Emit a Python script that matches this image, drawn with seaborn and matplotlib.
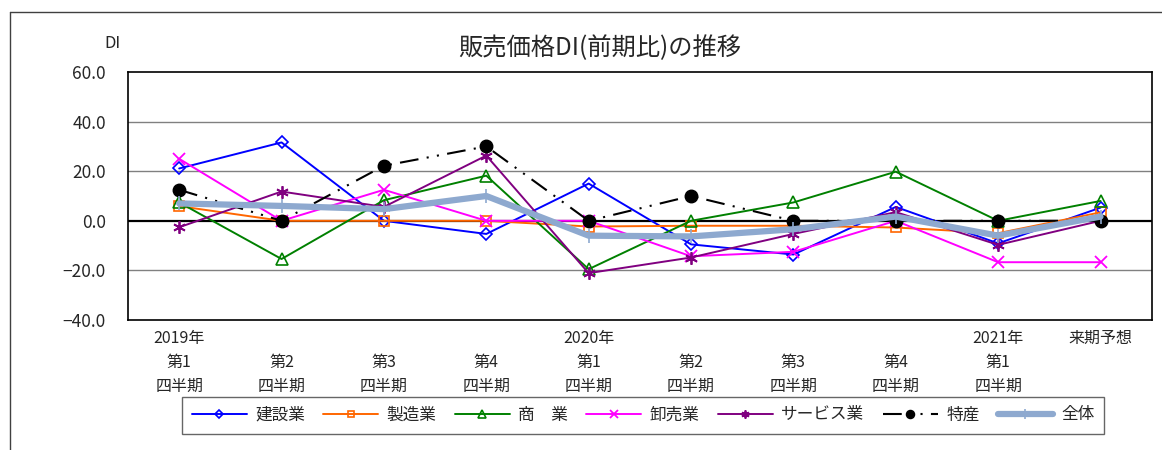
import matplotlib
matplotlib.use("Agg")
import matplotlib.pyplot as plt
import seaborn as sns
import pandas as pd
import numpy as np
from matplotlib.lines import Line2D
from matplotlib.ticker import FuncFormatter

categories = ["2019年\n第1\n四半期", "\n第2\n四半期", "\n第3\n四半期", "\n第4\n四半期",
              "2020年\n第1\n四半期", "\n第2\n四半期", "\n第3\n四半期", "\n第4\n四半期",
              "2021年\n第1\n四半期", "来期予想\n\n"]

kensetsu = [21.1, 31.6, 0.0, -5.3, 15.0, -9.5, -13.6, 5.6, -9.1, 5.3]
seizou   = [5.9, 0.0, 0.0, 0.0, -2.3, -2.0, -2.0, -2.7, -5.0, 3.4]
shougyou = [7.4, -15.4, 8.3, 18.2, -19.5, 0.0, 7.4, 19.8, 0.0, 8.0]
oroshi   = [25.0, 0.0, 12.5, 0.0, 0.0, -14.3, -12.5, 0.0, -16.7, -16.7]
service  = [-2.6, 11.8, 5.6, 26.3, -21.1, -14.8, -5.3, 3.5, -9.7, 0.0]
tokusan  = [12.5, 0.0, 22.2, 30.0, 0.0, 10.0, 0.0, 0.0, 0.0, 0.0]
zentai   = [7.0, 6.0, 4.7, 10.0, -6.0, -6.3, -3.4, 1.7, -6.0, 1.7]

series_names = ["建設業", "製造業", "商　業", "卸売業", "サービス業", "特産", "全体"]
series_vals = [kensetsu, seizou, shougyou, oroshi, service, tokusan, zentai]

sns.set_style("white")
plt.rcParams['font.family'] = ['Noto Sans CJK JP', 'DejaVu Sans']

fig = plt.figure(figsize=(11.62, 4.5), dpi=100)
ax = fig.add_axes([128/1162, 1-320/450, (1151.7-128)/1162, (320-72)/450])

styles = {
    "建設業": dict(color="#0000FF", marker="D", markersize=6.5, markerfacecolor="none", lw=1.4, mew=1.2),
    "製造業": dict(color="#FF6600", marker="s", markersize=7.5, markerfacecolor="none", lw=1.4, mew=1.2),
    "商　業": dict(color="#008000", marker="^", markersize=9, markerfacecolor="none", lw=1.4, mew=1.2),
    "卸売業": dict(color="#FF00FF", marker="x", markersize=8, lw=1.4, mew=1.3),
    "サービス業": dict(color="#800080", marker=(6, 2, 0), markersize=9, lw=1.4, mew=1.3),
    "特産": dict(color="#000000", marker="o", markersize=9, lw=1.5, mew=1.0),
    "全体": dict(color="#8EA9CF", marker="|", markersize=10, lw=4.5, mew=1.2),
}

x = np.arange(len(categories))
for name, vals in zip(series_names, series_vals):
    st = dict(styles[name])
    col = st["color"]
    sns.lineplot(x=x, y=vals, ax=ax, label=name, legend=False, markeredgecolor=col, **st)
    if name == "特産":
        ax.lines[-1].set_dashes((9, 4, 1, 4, 1, 4))

ax.set_xlim(-0.5, len(categories) - 0.5)
ax.set_ylim(-40, 60)
ax.set_yticks([-40, -20, 0, 20, 40, 60])
ax.yaxis.set_major_formatter(FuncFormatter(lambda v, p: f"{v:.1f}".replace("-", "−")))
ax.set_xticks(x)
ax.set_xticklabels(categories, fontsize=11.5, linespacing=1.55)
ax.tick_params(axis="y", labelsize=12.5, pad=16, length=0)
ax.tick_params(axis="x", pad=7, length=0)
for yv in [-20, 20, 40]:
    ax.axhline(yv, color="#808080", lw=1.0, zorder=0)
ax.axhline(0, color="black", lw=1.6, zorder=0.5)
for s in ax.spines.values():
    s.set_color("black")
    s.set_linewidth(1.2)
ax.set_xlabel("")
ax.set_ylabel("")

fig.text(600/1162, 1-48/450, "販売価格DI(前期比)の推移", ha="center", va="center", fontsize=17.5)
fig.text(112/1162, 1-44/450, "DI", ha="center", va="center", fontsize=12)

handles, labels = ax.get_legend_handles_labels()
leg = fig.legend(handles, labels, loc="center", bbox_to_anchor=(643/1162, 1-415/450), ncol=7,
                 frameon=True, fancybox=False, edgecolor="#404040", fontsize=12, markerscale=0.65,
                 handlelength=3.3, columnspacing=1.1, handletextpad=0.5, borderpad=0.6)
leg.get_frame().set_linewidth(1.0)

fig.add_artist(Line2D([10/1162, 10/1162], [0, 1-12/450], color="#404040", lw=1.0, transform=fig.transFigure))
fig.add_artist(Line2D([10/1162, 1], [1-12/450, 1-12/450], color="#404040", lw=1.0, transform=fig.transFigure))

fig.savefig("out.png", dpi=100)
